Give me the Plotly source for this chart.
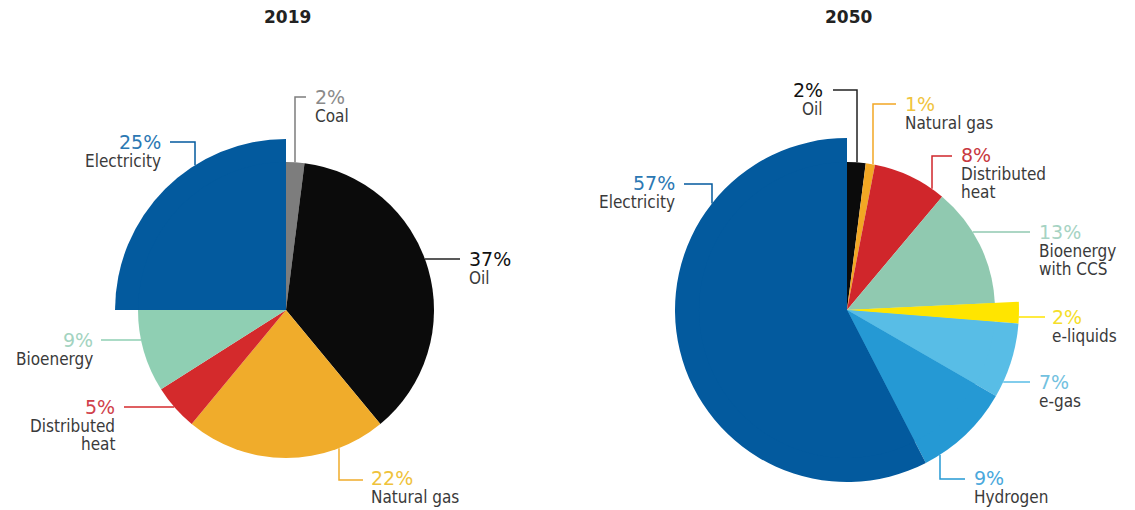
import math
import plotly.graph_objects as go

# ---------------- data ----------------
years = ["2019", "2050"]

labels_2019 = ["Coal", "Oil", "Natural gas", "Distributed\nheat", "Bioenergy", "Electricity"]
values_2019 = [2, 37, 22, 5, 9, 25]
emph_2019 = [False, False, False, False, False, True]

labels_2050 = ["Oil", "Natural gas", "Distributed\nheat", "Bioenergy\nwith CCS",
               "e-liquids", "e-gas", "Hydrogen", "Electricity"]
values_2050 = [2, 1, 8, 13, 2, 7, 9, 57]
emph_2050 = [False, False, False, False, True, True, True, True]

# ---------------- styles ----------------
colors_2019 = ["#7d7d7d", "#0b0b0b", "#f0ac2b", "#d42a2c", "#8fcfb3", "#035a9e"]
colors_2050 = ["#0b0b0b", "#f2a724", "#d0262b", "#90c9b0", "#ffe500", "#58bde6", "#2599d4", "#035a9e"]
pct_colors_2019 = ["#8a8a8a", "#111111", "#efc23a", "#d0404a", "#a3d3c0", "#2b78b3"]
pct_colors_2050 = ["#111111", "#f0c440", "#c8383f", "#a6d3c3", "#f5de2a", "#72c1e0", "#4aa8dc", "#2b78b3"]

W, H = 1135, 510
geom = {  # centre and radii in page pixels
    "2019": dict(cx=286, cy=310, r=148, R=171),
    "2050": dict(cx=847, cy=310, r=148, R=172),
}
# label layout: pct text anchor (x, y), alignment, leader start (x, y), leader kind
lab_2019 = [
    dict(x=313, y=97, a="left", sx=306, sy=97, kind="v", ex=295),
    dict(x=467, y=259, a="left", sx=460, sy=259, kind="h"),
    dict(x=369, y=478, a="left", sx=363, sy=480, kind="v", ex=339),
    dict(x=117, y=407, a="right", sx=124, sy=407, kind="h"),
    dict(x=95, y=340, a="right", sx=101, sy=340, kind="h"),
    dict(x=163, y=142, a="right", sx=170, sy=142, kind="v", ex=195),
]
lab_2050 = [
    dict(x=825, y=90, a="right", sx=833, sy=90, kind="v", ex=857),
    dict(x=903, y=104, a="left", sx=896, sy=104, kind="v", ex=873),
    dict(x=959, y=155, a="left", sx=952, sy=156, kind="v", ex=932),
    dict(x=1037, y=232, a="left", sx=1030, sy=232, kind="h"),
    dict(x=1050, y=317, a="left", sx=1045, sy=317, kind="h"),
    dict(x=1037, y=382, a="left", sx=1030, sy=382, kind="h"),
    dict(x=972, y=478, a="left", sx=965, sy=479, kind="v", ex=940),
    dict(x=677, y=183, a="right", sx=684, sy=184, kind="v", ex=712),
]

PCT_FONT = "DejaVu Sans"
NAME_FONT = "DejaVu Sans Condensed, DejaVu Sans"


def px(x):
    return x / W


def py(y):
    return 1 - y / H


fig = go.Figure()
annotations = []
shapes = []

sets = [
    ("2019", labels_2019, values_2019, emph_2019, colors_2019, pct_colors_2019, lab_2019),
    ("2050", labels_2050, values_2050, emph_2050, colors_2050, pct_colors_2050, lab_2050),
]

for year, labels, values, emph, cols, pcols, labs in sets:
    g = geom[year]
    cx, cy, r, R = g["cx"], g["cy"], g["r"], g["R"]
    names = [l.replace("\n", " ") for l in labels]
    # large pie: only emphasised slices visible
    big_cols = [c if e else "rgba(0,0,0,0)" for c, e in zip(cols, emph)]
    fig.add_trace(go.Pie(
        labels=names, values=values, sort=False, direction="clockwise", rotation=0,
        marker=dict(colors=big_cols, line=dict(width=0)), textinfo="none",
        hoverinfo="skip", showlegend=False,
        domain=dict(x=[px(cx - R), px(cx + R)], y=[py(cy + R), py(cy - R)]),
    ))
    # normal pie
    fig.add_trace(go.Pie(
        labels=names, values=values, sort=False, direction="clockwise", rotation=0,
        marker=dict(colors=cols, line=dict(width=0)), textinfo="none",
        hoverinfo="skip", showlegend=False,
        domain=dict(x=[px(cx - r), px(cx + r)], y=[py(cy + r), py(cy - r)]),
    ))
    # title
    annotations.append(dict(
        x=px(cx + 1), y=py(17), xref="paper", yref="paper", text=f"<b>{year}</b>",
        showarrow=False, xanchor="center", yanchor="middle",
        font=dict(family="DejaVu Sans", size=17, color="#222222"),
    ))
    for lab, v, e, c, pc, L in zip(labels, values, emph, cols, pcols, labs):
        rad = R if e else r
        # percentage
        annotations.append(dict(
            x=px(L["x"]), y=py(L["y"]), xref="paper", yref="paper", text=f"{v}%",
            showarrow=False, xanchor=L["a"], yanchor="middle",
            font=dict(family=PCT_FONT, size=19, color=pc),
        ))
        # name lines
        for i, line in enumerate(lab.split("\n")):
            annotations.append(dict(
                x=px(L["x"]), y=py(L["y"] + 19 + 18 * i), xref="paper", yref="paper",
                text=line, showarrow=False, xanchor=L["a"], yanchor="middle",
                font=dict(family=NAME_FONT, size=17, color="#3a3a3a"),
            ))
        # leader line
        sx, sy = L["sx"], L["sy"]
        if L["kind"] == "v":
            ex = L["ex"]
            d = math.sqrt(max(rad ** 2 - (ex - cx) ** 2, 0))
            ey = cy - d if sy < cy else cy + d
            pts = [(sx, sy), (ex, sy), (ex, ey)]
        else:
            d = math.sqrt(max(rad ** 2 - (sy - cy) ** 2, 0))
            ex = cx + d if sx > cx else cx - d
            pts = [(sx, sy), (ex, sy)]
        path = "M " + " L ".join(f"{px(a):.5f},{py(b):.5f}" for a, b in pts)
        shapes.append(dict(type="path", xref="paper", yref="paper", path=path,
                           line=dict(color=c if c != "#0b0b0b" else "#222222", width=1.5),
                           layer="below"))

fig.update_layout(
    width=W, height=H, margin=dict(l=0, r=0, t=0, b=0),
    paper_bgcolor="white", plot_bgcolor="white",
    annotations=annotations, shapes=shapes,
)

fig.write_html("out.html", config={"displayModeBar": False},
               post_script="document.body.style.margin='0';document.body.style.overflow='hidden';")
